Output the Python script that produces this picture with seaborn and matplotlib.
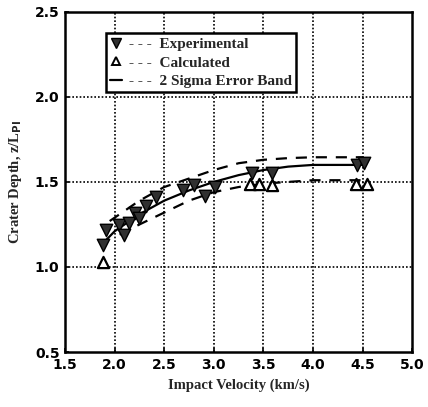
import matplotlib
matplotlib.use("Agg")
import matplotlib.pyplot as plt
from matplotlib.lines import Line2D
import numpy as np
import pandas as pd
import seaborn as sns

exp_v = [1.88, 1.91, 2.04, 2.09, 2.14, 2.21, 2.25, 2.32, 2.42, 2.69, 2.80, 2.91, 3.01, 3.39, 3.59, 4.44, 4.51]
exp_z = [1.13, 1.215, 1.245, 1.19, 1.26, 1.32, 1.29, 1.36, 1.41, 1.45, 1.48, 1.42, 1.47, 1.55, 1.55, 1.60, 1.61]

calc_v = [1.88, 3.36, 3.46, 3.59, 4.43, 4.54]
calc_z = [1.03, 1.49, 1.49, 1.48, 1.49, 1.49]

# fit curve and 2-sigma band
fit_v = [1.9, 2.0, 2.25, 2.5, 2.75, 3.0, 3.25, 3.5, 3.75, 4.0, 4.25, 4.5]
fit_z = [1.15, 1.21, 1.31, 1.39, 1.45, 1.50, 1.54, 1.57, 1.59, 1.60, 1.60, 1.60]

up_v = [1.95, 2.0, 2.25, 2.5, 2.75, 3.0, 3.25, 3.5, 3.75, 4.0, 4.25, 4.5]
up_z = [1.27, 1.29, 1.39, 1.47, 1.52, 1.57, 1.61, 1.63, 1.64, 1.645, 1.645, 1.645]

lo_v = [2.05, 2.25, 2.5, 2.75, 3.0, 3.25, 3.5, 3.75, 4.0, 4.25, 4.5]
lo_z = [1.19, 1.25, 1.32, 1.39, 1.44, 1.47, 1.49, 1.50, 1.51, 1.51, 1.51]

x_ticks = [1.5, 2.0, 2.5, 3.0, 3.5, 4.0, 4.5, 5.0]
y_ticks = [0.5, 1.0, 1.5, 2.0, 2.5]

sns.set_theme(style="ticks")
plt.rcParams["font.family"] = ["Liberation Serif", "DejaVu Serif"]
plt.rcParams["font.weight"] = "bold"

fig = plt.figure(figsize=(4.28, 4.07), dpi=100)
ax = fig.add_axes([0.152, 0.135, 0.811, 0.836])

# inner grid, dotted
for xv in x_ticks[1:-1]:
    ax.axvline(xv, color="black", ls=(0, (1, 1.2)), lw=1.2, zorder=1)
for yv in y_ticks[1:-1]:
    ax.axhline(yv, color="black", ls=(0, (1, 1.2)), lw=1.2, zorder=1)

sns.lineplot(x=fit_v, y=fit_z, color="black", lw=1.6, ax=ax, zorder=3)
sns.lineplot(x=up_v, y=up_z, color="black", lw=1.6, ls=(0, (5, 4)), ax=ax, zorder=3)
sns.lineplot(x=lo_v, y=lo_z, color="black", lw=1.6, ls=(0, (5, 4)), ax=ax, zorder=3)

sns.scatterplot(x=exp_v, y=exp_z, marker="v", s=80, color="#303030",
                edgecolor="black", linewidth=1.0, ax=ax, zorder=4)
sns.scatterplot(x=calc_v, y=calc_z, marker="^", s=65, facecolor="white",
                edgecolor="black", linewidth=1.6, ax=ax, zorder=4)

ax.set_xlim(1.5, 5.0)
ax.set_ylim(0.5, 2.5)
ax.set_xticks(x_ticks)
ax.set_yticks(y_ticks)
ax.set_xticklabels([f"{v:.1f}" for v in x_ticks], family="DejaVu Sans", weight="bold", fontsize=10)
ax.set_yticklabels([f"{v:.1f}" for v in y_ticks], family="DejaVu Sans", weight="bold", fontsize=10)
ax.tick_params(direction="in", length=3, width=1.2, colors="black", pad=4)
for sp in ax.spines.values():
    sp.set_linewidth(1.8)
    sp.set_color("black")

ax.set_xlabel("Impact Velocity (km/s)", fontsize=10.5, weight="bold", labelpad=5)
ax.set_ylabel(r"Crater Depth, z/L$_{\mathbf{PI}}$", fontsize=10.5, weight="bold", labelpad=8)

handles = [
    Line2D([], [], marker="v", color="black", markerfacecolor="#303030", ls="", markersize=7),
    Line2D([], [], marker="^", color="black", markerfacecolor="white", ls="", markersize=6, markeredgewidth=1.4),
    Line2D([], [], color="black", lw=1.6),
]
labels = ["- - -  Experimental", "- - -  Calculated", "- - -  2 Sigma Error Band"]
leg = ax.legend(handles, labels, loc="upper left", bbox_to_anchor=(0.095, 0.96),
                frameon=True, fancybox=False, edgecolor="black", framealpha=1,
                handlelength=0.8, handletextpad=0.4, borderpad=0.3, labelspacing=0.3,
                prop={"family": "Liberation Serif", "weight": "bold", "size": 11})
leg.get_frame().set_linewidth(1.8)
leg.set_zorder(5)

fig.savefig("out.png", dpi=100, facecolor="white")
